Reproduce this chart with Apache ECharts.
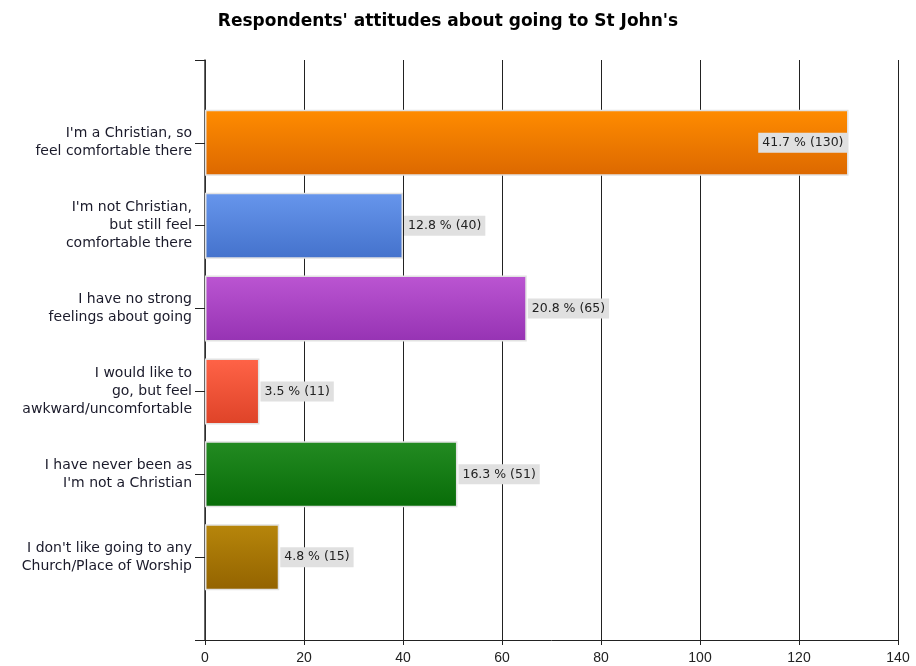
<!DOCTYPE html>
<html>
<head>
<meta charset="utf-8">
<title>Respondents' attitudes about going to St John's</title>
<script src="https://cdn.jsdelivr.net/npm/echarts@6/dist/echarts.min.js"></script>
<style>
  html, body { margin: 0; padding: 0; background: #fff; }
  #chart { width: 916px; height: 666px; }
</style>
</head>
<body>
<div id="chart"></div>
<script>
// Survey answers, top to bottom
const categories = [
  "I'm a Christian, so\nfeel comfortable there",
  "I'm not Christian,\nbut still feel\ncomfortable there",
  "I have no strong\nfeelings about going",
  "I would like to\ngo, but feel\nawkward/uncomfortable",
  "I have never been as\nI'm not a Christian",
  "I don't like going to any\nChurch/Place of Worship"
];
// Number of respondents per answer
const counts = [130, 40, 65, 11, 51, 15];
// Share of respondents (%)
const percents = ["41.7", "12.8", "20.8", "3.5", "16.3", "4.8"];
// Bar gradient colours (top, bottom)
const topColors = ["#ff8c00", "#6796ec", "#bb55d2", "#ff6347", "#238b22", "#b7860b"];
const bottomColors = ["#dc6800", "#4472cc", "#9633b3", "#de4328", "#086c08", "#936300"];
const xTicks = [0, 20, 40, 60, 80, 100, 120, 140];

const FONT = "DejaVu Sans";

// Blank slots above and below give the half-band margins at both ends of the axis
const yData = [""].concat(categories, [""]);
const barData = ["-"].concat(counts.map((v, i) => ({
  value: v,
  itemStyle: {
    color: new echarts.graphic.LinearGradient(0, 0, 0, 1, [
      { offset: 0, color: topColors[i] },
      { offset: 1, color: bottomColors[i] }
    ])
  },
  label: {
    position: i === 0 ? "insideRight" : "right",
    distance: 1
  }
})), ["-"]);

const chart = echarts.init(document.getElementById("chart"), null, { renderer: "canvas" });
chart.setOption({
  backgroundColor: "#ffffff",
  animation: false,
  title: {
    text: "Respondents' attitudes about going to St John's",
    left: 443,
    textAlign: "center",
    top: 8,
    textStyle: { fontFamily: "DejaVu Sans", fontWeight: "bold", fontSize: 17, color: "#000" }
  },
  grid: { left: 205, right: 18, top: 60, bottom: 26, containLabel: false },
  xAxis: {
    type: "value",
    min: xTicks[0],
    max: xTicks[xTicks.length - 1],
    interval: xTicks[1] - xTicks[0],
    axisLine: { show: true, lineStyle: { color: "#222", width: 1 } },
    axisTick: { show: true, length: 5, lineStyle: { color: "#222" } },
    axisLabel: { fontFamily: "Liberation Sans", fontSize: 14, color: "#222", margin: 11 },
    splitLine: { show: true, lineStyle: { color: "#222", width: 1 } }
  },
  yAxis: {
    type: "category",
    data: yData,
    inverse: true,
    boundaryGap: false,
    axisLine: { show: true, lineStyle: { color: "#333", width: 1.5 } },
    axisTick: { show: true, length: 10, lineStyle: { color: "#222" } },
    axisLabel: {
      fontFamily: FONT, fontSize: 14, color: "#1a1a2a", margin: 13,
      lineHeight: 18, align: "right", interval: 0
    },
    splitLine: { show: false }
  },
  series: [{
    type: "bar",
    data: barData,
    barWidth: 66,
    itemStyle: { borderColor: "#e2e2e2", borderWidth: 1.5 },
    label: {
      show: true,
      fontFamily: FONT,
      fontSize: 12.5,
      color: "#222",
      backgroundColor: "#e0e0e0",
      padding: [4, 4, 3, 4],
      formatter: p => percents[p.dataIndex - 1] + " % (" + p.value + ")"
    }
  }]
});
</script>
</body>
</html>
